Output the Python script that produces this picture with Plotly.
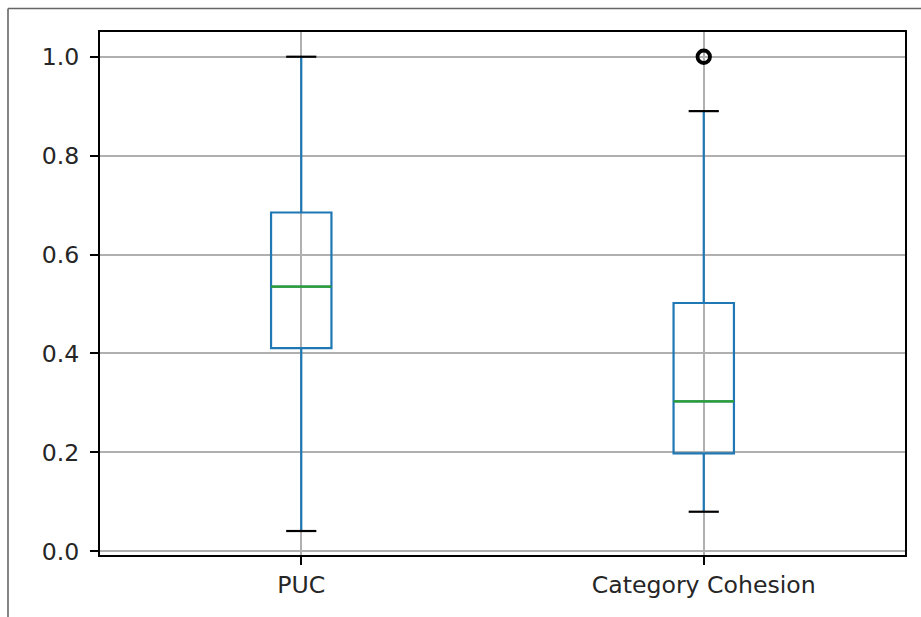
import plotly.graph_objects as go

# ---- data ----
categories = ["PUC", "Category Cohesion"]
positions = [1, 2]
lower_whisker = [0.041, 0.080]
q1_vals = [0.411, 0.198]
median_vals = [0.535, 0.303]
q3_vals = [0.685, 0.502]
upper_whisker = [1.000, 0.890]
outlier_cat = [2]
outlier_vals = [1.000]
y_ticks = [0.0, 0.2, 0.4, 0.6, 0.8, 1.0]

# ---- style ----
BLUE = "#1f77b4"
GREEN = "#2ca02c"
BOX_W = 0.15
CAP_W = BOX_W / 2
FONT = dict(family="DejaVu Sans", size=23.6, color="#262626")

W, H = 921, 617
ML, MR, MT, MB = 100, 16, 31.5, 62

fig = go.Figure()

for i, cat in enumerate(categories):
    p = positions[i]
    fig.add_trace(go.Box(
        x=[p], q1=[q1_vals[i]], median=[median_vals[i]], q3=[q3_vals[i]],
        lowerfence=[lower_whisker[i]], upperfence=[upper_whisker[i]],
        width=BOX_W, whiskerwidth=0, fillcolor="rgba(0,0,0,0)",
        line=dict(color=BLUE, width=2.2), boxpoints=False,
        name=cat, showlegend=False, hoverinfo="skip",
    ))
    # median line (green)
    fig.add_trace(go.Scatter(
        x=[p - BOX_W / 2, p + BOX_W / 2], y=[median_vals[i]] * 2,
        mode="lines", line=dict(color=GREEN, width=2.2),
        showlegend=False, hoverinfo="skip",
    ))
    # whisker caps (black)
    for v in (lower_whisker[i], upper_whisker[i]):
        fig.add_trace(go.Scatter(
            x=[p - CAP_W / 2, p + CAP_W / 2], y=[v, v],
            mode="lines", line=dict(color="black", width=2.2),
            showlegend=False, hoverinfo="skip",
        ))

# outliers
fig.add_trace(go.Scatter(
    x=outlier_cat, y=outlier_vals, mode="markers",
    marker=dict(symbol="circle-open", size=12.5, color="black",
                line=dict(color="black", width=3.8)),
    showlegend=False, hoverinfo="skip", cliponaxis=False,
))

pw = W - ML - MR
ph = H - MT - MB
fx = lambda px: (px - ML) / pw
fy = lambda py: 1 - (py - MT) / ph

fig.update_layout(
    width=W, height=H,
    margin=dict(l=ML, r=MR, t=MT, b=MB, pad=0),
    paper_bgcolor="white", plot_bgcolor="white",
    font=FONT,
    shapes=[
        dict(type="line", xref="paper", yref="paper",
             x0=fx(8), x1=fx(W + 5), y0=fy(8), y1=fy(8),
             line=dict(color="#666666", width=1.6)),
        dict(type="line", xref="paper", yref="paper",
             x0=fx(8), x1=fx(8), y0=fy(8), y1=fy(H + 5),
             line=dict(color="#666666", width=1.6)),
    ],
)

fig.update_xaxes(
    range=[0.5, 2.5], tickvals=positions, ticktext=categories,
    showgrid=True, gridcolor="#b0b0b0", gridwidth=1.8,
    zeroline=False, showline=True, linecolor="black", linewidth=1.8,
    mirror=True, ticks="outside", ticklen=8, tickwidth=1.8, tickcolor="black",
    ticklabelstandoff=0, tickfont=FONT,
)
fig.update_yaxes(
    range=[-0.0075, 1.050], tickvals=y_ticks,
    ticktext=[f"{v:.1f}" for v in y_ticks],
    showgrid=True, gridcolor="#b0b0b0", gridwidth=1.8,
    zeroline=False, showline=True, linecolor="black", linewidth=1.8,
    mirror=True, ticks="outside", ticklen=8, tickwidth=1.8, tickcolor="black",
    ticklabelstandoff=6, tickfont=FONT,
)

fig.write_html("out.html")
